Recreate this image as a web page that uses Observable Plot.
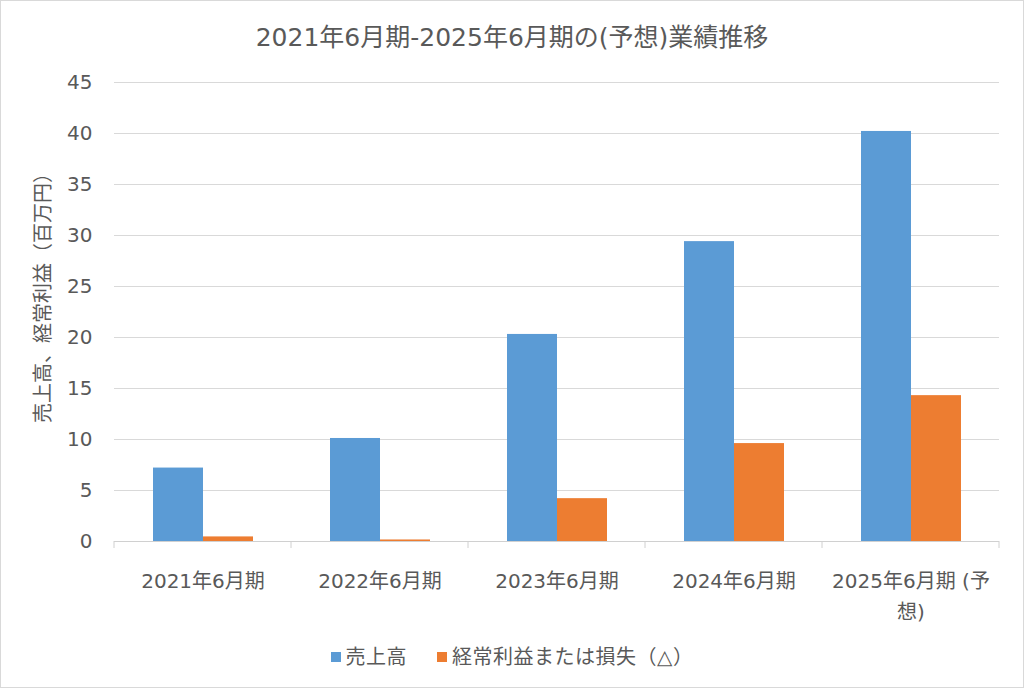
<!DOCTYPE html>
<html>
<head>
<meta charset="utf-8">
<script src="https://cdn.jsdelivr.net/npm/d3@7"></script>
<script src="https://cdn.jsdelivr.net/npm/@observablehq/plot@0.6"></script>
<style>
  body { margin: 0; background: #fff; }
  #chart { position: relative; width: 1024px; height: 688px; outline: 1px solid #d9d9d9; outline-offset: -1px; font-family: "DejaVu Sans", "Noto Sans CJK JP", sans-serif; color: #595959; overflow: hidden; }
  #title { position: absolute; left: 0; width: 1024px; top: 21px; text-align: center; font-size: 25px; line-height: 34px; }
  #plot { position: absolute; left: 0; top: 60px; }
  #ylabel { position: absolute; left: 43px; top: 293px; transform: translate(-50%, -50%) rotate(-90deg); white-space: nowrap; font-size: 20px; line-height: 24px; }
  #legend { position: absolute; left: 0; width: 1024px; top: 643px; display: flex; justify-content: center; align-items: center; font-size: 20px; line-height: 28px; letter-spacing: 0.5px; }
  .item { display: flex; align-items: center; margin: 0 15px; }
  .sw { width: 10px; height: 10px; margin-right: 5px; }
</style>
</head>
<body>
<div id="chart">
  <div id="title">2021年6月期-2025年6月期の(予想)業績推移</div>
  <div id="plot"></div>
  <div id="ylabel"></div>
  <div id="legend"></div>
</div>
<script>
const categories = ["2021年6月期", "2022年6月期", "2023年6月期", "2024年6月期", "2025年6月期 (予想)"];
const tickLabels = ["2021年6月期", "2022年6月期", "2023年6月期", "2024年6月期", "2025年6月期 (予\n想)"];
const series = ["売上高", "経常利益または損失（△）"];
const colors = ["#5B9BD5", "#ED7D31"];
const sales = [7.2, 10.1, 20.3, 29.4, 40.2];
const ordinaryProfit = [0.45, 0.15, 4.2, 9.6, 14.3];
const yTicks = [0, 5, 10, 15, 20, 25, 30, 35, 40, 45];
const yLabel = "売上高、経常利益（百万円）";

const rows = [];
categories.forEach((c, i) => {
  rows.push({category: c, series: series[0], value: sales[i]});
  rows.push({category: c, series: series[1], value: ordinaryProfit[i]});
});
const labelRows = categories.map((c, i) => ({category: c, label: tickLabels[i]}));

const plot = Plot.plot({
  width: 1024,
  height: 570,
  marginTop: 22,
  marginBottom: 89,
  marginLeft: 112,
  marginRight: 24,
  style: {fontFamily: "'DejaVu Sans', 'Noto Sans CJK JP', sans-serif", fontSize: "20px", color: "#595959", background: "transparent"},
  fx: {domain: categories, padding: 0, axis: null},
  x: {domain: series, paddingInner: 0, paddingOuter: 0.76, axis: null},
  y: {domain: [0, 45], axis: null},
  color: {domain: series, range: colors},
  marks: [
    Plot.ruleY(yTicks.filter(d => d > 0), {stroke: "#d9d9d9", strokeWidth: 1, strokeOpacity: 1}),
    Plot.barY(rows, {fx: "category", x: "series", y: "value", fill: "series", inset: 0}),
    Plot.ruleY([0], {stroke: "#d0d0d0", strokeWidth: 1}),
    Plot.axisY({ticks: yTicks, tickSize: 0, tickPadding: 22, fontSize: 20, label: null, tickFormat: d => String(d)}),
    Plot.text(labelRows, {fx: "category", text: "label", frameAnchor: "bottom", lineAnchor: "top", dy: 24, fontSize: 20, lineHeight: 1.55, fill: "#595959"})
  ]
});

// x-axis ticks at category boundaries, from the fx band scale
const fx = plot.scale("fx");
const y = plot.scale("y");
const bw = fx.bandwidth;
const bounds = categories.map(c => fx.apply(c)).concat([fx.apply(categories[categories.length - 1]) + bw]);
const y0 = y.apply(0);
d3.select(plot).append("g")
  .selectAll("line").data(bounds).join("line")
  .attr("x1", d => d).attr("x2", d => d)
  .attr("y1", y0).attr("y2", y0 + 7)
  .attr("stroke", "#d0d0d0").attr("stroke-width", 1);

document.getElementById("plot").appendChild(plot);
document.getElementById("ylabel").textContent = yLabel;

const legend = d3.select("#legend");
series.forEach((s, i) => {
  const it = legend.append("div").attr("class", "item");
  it.append("div").attr("class", "sw").style("background", colors[i]);
  it.append("span").text(s);
});
</script>
</body>
</html>
